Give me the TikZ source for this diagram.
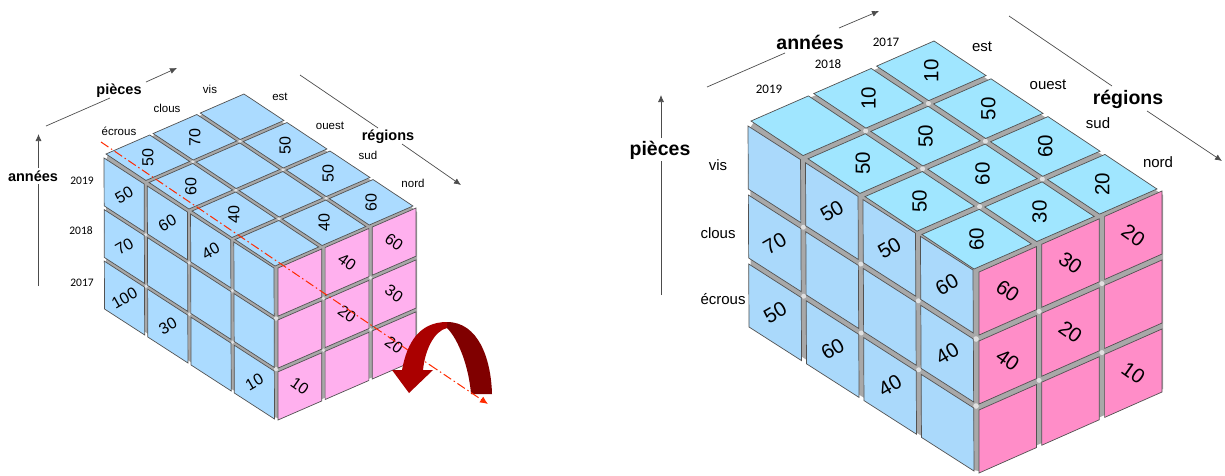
\documentclass[tikz,border=0pt]{standalone}
\usepackage{fontspec}
\setmainfont{Liberation Sans}
\newfontfamily\yearfont{Carlito}
\usetikzlibrary{arrows.meta}
\definecolor{blueA}{HTML}{ABDBFF}
\definecolor{pinkA}{HTML}{FFB0EE}
\definecolor{topB}{HTML}{A0E6FF}
\definecolor{blueB}{HTML}{AAD9FB}
\definecolor{pinkB}{HTML}{FF8DC8}
\definecolor{arcA}{HTML}{AA0000}
\definecolor{arcB}{HTML}{800000}
\definecolor{axisred}{HTML}{FF2A00}
\newcommand{\fs}[1]{\fontsize{#1}{#1}\selectfont}
\newcommand{\drawcells}[1]{%
  \foreach \ci in {1,...,\nc}{\foreach \ri in {1,...,\nr}{%
    \pgfmathsetmacro\ua{(\ci-1+\gapf)/\nc}\pgfmathsetmacro\ub{(\ci-\gapf)/\nc}%
    \pgfmathsetmacro\va{(\ri-1+\gapf)/\nr}\pgfmathsetmacro\vb{(\ri-\gapf)/\nr}%
    \draw[#1]
      (\ox+\ua*\ax+\va*\bx,\oy+\ua*\ay+\va*\by) --
      (\ox+\ub*\ax+\va*\bx,\oy+\ub*\ay+\va*\by) --
      (\ox+\ub*\ax+\vb*\bx,\oy+\ub*\ay+\vb*\by) --
      (\ox+\ua*\ax+\vb*\bx,\oy+\ua*\ay+\vb*\by) -- cycle;
  }}}
% name, outer corner x,y, outer vector a x,y, outer vector b x,y, nc, nr ; uses \cellcol, \gapf, \glow
\newcommand{\facegrid}[9]{%
  \def\nc{#8}\def\nr{#9}%
  \pgfmathsetmacro\sa{1/(1-2*\gapf/\nc)}\pgfmathsetmacro\sb{1/(1-2*\gapf/\nr)}%
  \pgfmathsetmacro\ax{(#4)*\sa}\pgfmathsetmacro\ay{(#5)*\sa}%
  \pgfmathsetmacro\bx{(#6)*\sb}\pgfmathsetmacro\by{(#7)*\sb}%
  \pgfmathsetmacro\ox{#2-\gapf/\nc*\ax-\gapf/\nr*\bx}%
  \pgfmathsetmacro\oy{#3-\gapf/\nc*\ay-\gapf/\nr*\by}%
  \foreach \ci in {1,...,\nc}{\foreach \ri in {1,...,\nr}{%
    \pgfmathsetmacro\mx{\ox+(\ci-.5)/\nc*\ax+(\ri-.5)/\nr*\bx}%
    \pgfmathsetmacro\my{\oy+(\ci-.5)/\nc*\ay+(\ri-.5)/\nr*\by}%
    \coordinate (#1-\ci-\ri) at (\mx,\my);
    \pgfmathsetmacro\ix{\ox+\ci/\nc*\ax+\ri/\nr*\bx}%
    \pgfmathsetmacro\iy{\oy+\ci/\nc*\ay+\ri/\nr*\by}%
    \ifnum\ci<\nc\relax\ifnum\ri<\nr\relax
      \fill[glowdot] (\ix,\iy) circle[radius=\glow];
    \fi\fi
  }}%
  \drawcells{cellbox,fill=\cellcol}%
}
\tikzset{
  cubebody/.style={fill=black!34,line join=round},
  glowdot/.style={fill=white,fill opacity=.65},
  cellbox/.style={draw=black!68,line width=.7pt,line join=miter},
  smallA/.style={inner sep=0pt,font=\fs{11.5}},
  smallB/.style={inner sep=0pt,font=\fs{15}},
  yrA/.style={inner sep=0pt,font=\yearfont\fs{11.5}},
  yrB/.style={inner sep=0pt,font=\yearfont\fs{13}},
  axisA/.style={inner sep=2.5pt,font=\bfseries\fs{14.5}},
  axisB/.style={inner sep=2.5pt,font=\bfseries\fs{19.5}},
  axline/.style={draw=black!70,line width=.7pt},
  axarrow/.style={axline,-{Latex[length=7pt,width=6pt]}},
  numA/.style={inner sep=0pt,font=\fs{16}},
  numB/.style={inner sep=0pt,font=\fs{20.5}},
  redaxis/.style={draw=axisred,line width=1pt,dash pattern=on 9pt off 3pt on 1.5pt off 3pt},
  redtip/.style={redaxis,-{Latex[length=8pt,width=7pt]}},
}
\begin{document}
\begin{tikzpicture}[x=1pt,y=-1pt]
\useasboundingbox (0,0) rectangle (1225,475);
% ================= left cube
\fill[cubebody] (108,155) -- (244,97) -- (410,206) -- (415,210) -- (417,212) -- (417,358) -- (278,418) -- (274,417) -- (106,306) -- (106,160) -- cycle;
\foreach \k in {1,2} \fill[glowdot] (276,268+50.5*\k) circle[radius=2.2];
\def\gapf{.036}\def\glow{1.8}
\def\cellcol{blueA}
\facegrid{LT}{106}{154}{138}{-60}{169}{112}{3}{4}
\facegrid{LL}{104}{158}{170}{110}{0.5}{151}{4}{3}
\def\cellcol{pinkA}
\facegrid{LR}{278}{268}{138}{-60}{0}{152}{3}{3}
\foreach \ci/\ri/\v in {1/1/50,2/1/70,1/2/60,1/3/40,3/2/50,3/3/50,3/4/60,2/4/40}
  \node[numA,rotate=90] (LTv-\ci-\ri) at (LT-\ci-\ri) {\v};
\foreach \ci/\ri/\v in {1/1/50,2/1/60,3/1/40,1/2/70,1/3/100,2/3/30,4/3/10}
  \node[numA,rotate=30] (LLv-\ci-\ri) at (LL-\ci-\ri) {\v};
\foreach \ci/\ri/\v in {2/1/40,3/1/60,2/2/20,3/2/30,1/3/10,3/3/20}
  \node[numA,rotate=-35] (LRv-\ci-\ri) at (LR-\ci-\ri) {\v};
% labels
\node[smallA] (lecrous) at (119,131) {écrous};
\node[smallA] (lclous) at (167,108) {clous};
\node[smallA] (lvis) at (210,89) {vis};
\node[smallA] (lest) at (280,97) {est};
\node[smallA] (louest) at (330,126) {ouest};
\node[smallA] (lsud) at (368,155) {sud};
\node[smallA] (lnord) at (413,183) {nord};
\node[yrA] (l2019) at (82,181) {2019};
\node[yrA] (l2018) at (81,231) {2018};
\node[yrA] (l2017) at (82,283) {2017};
\node[axisA] (lpieces) at (119,91) {pièces};
\node[axisA] (lannees) at (33,176) {années};
\node[axisA] (lregions) at (388,137) {régions};
\coordinate (lp0) at (46,126); \coordinate (lp1) at (177,68);
\coordinate (la0) at (38.5,286); \coordinate (la1) at (38.5,134);
\coordinate (lr0) at (300,75); \coordinate (lr1) at (461,185);
\draw[axline] (lp0) -- (110,98);
\draw[axarrow] (146,82) -- (lp1);
\draw[axline] (la0) -- (38.5,184);
\draw[axarrow] (38.5,168) -- (la1);
\draw[axline] (lr0) -- (378,128);
\draw[axarrow] (402,144) -- (lr1);
% rotation axis
\coordinate (ra0) at (101,142); \coordinate (ra1) at (488,404); \coordinate (ra2) at (430,365);
\draw[redaxis] (ra0) -- (ra2);
% curved arrow
\fill[arcB] (447,322) .. controls (478,322) and (491,358) .. (492,394) -- (471,394)
  .. controls (469,368) and (459,340) .. (447,328) -- cycle;
\fill[arcA] (402,370) .. controls (407,343) and (419,322) .. (447,322) -- (447,328)
  .. controls (434,331) and (425,350) .. (423,370) -- (433,370) -- (409,393) -- (392,370) -- cycle;
\draw[redtip] (ra2) -- (ra1);
% ================= right cube
\fill[cubebody] (754,122) -- (934,44) -- (1154,189) -- (1160,193) -- (1163,195) -- (1163,389) -- (979,471) -- (973,470) -- (751,323) -- (750,128) -- cycle;
\foreach \k in {1,2} \fill[glowdot] (976,272+67*\k) circle[radius=2.8];
\def\gapf{.043}\def\glow{2.5}
\def\cellcol{topB}
\facegrid{RT}{751}{121}{183}{-80}{223}{148}{3}{4}
\def\cellcol{blueB}
\facegrid{RL}{748}{126}{225}{144}{1}{201}{4}{3}
\def\cellcol{pinkB}
\facegrid{RR}{979}{272}{183}{-81}{0}{201}{3}{3}
\foreach \ci/\ri/\v in {2/1/10,3/1/10,1/2/50,2/2/50,3/2/50,1/3/50,2/3/60,3/3/60,1/4/60,2/4/30,3/4/20}
  \node[numB,rotate=90] (RTv-\ci-\ri) at (RT-\ci-\ri) {\v};
\foreach \ci/\ri/\v in {2/1/50,3/1/50,4/1/60,1/2/70,4/2/40,1/3/50,2/3/60,3/3/40}
  \node[numB,rotate=30] (RLv-\ci-\ri) at (RL-\ci-\ri) {\v};
\foreach \ci/\ri/\v in {1/1/60,2/1/30,3/1/20,1/2/40,2/2/20,3/3/10}
  \node[numB,rotate=-35] (RRv-\ci-\ri) at (RR-\ci-\ri) {\v};
\node[smallB] (rvis) at (718,165) {vis};
\node[smallB] (rclous) at (718,233) {clous};
\node[smallB] (recrous) at (723,299) {écrous};
\node[smallB] (rest) at (982,47) {est};
\node[smallB] (rouest) at (1048,85) {ouest};
\node[smallB] (rsud) at (1098,123) {sud};
\node[smallB] (rnord) at (1158,162) {nord};
\node[yrB] (r2019) at (769,89) {2019};
\node[yrB] (r2018) at (828,64) {2018};
\node[yrB] (r2017) at (886,42) {2017};
\node[axisB] (rannees) at (810,42) {années};
\node[axisB] (rpieces) at (660,150) {pièces};
\node[axisB] (rregions) at (1128,99) {régions};
\coordinate (ry0) at (707,87); \coordinate (ry1) at (879,11);
\coordinate (rp0) at (661,295); \coordinate (rp1) at (661,95);
\coordinate (rr0) at (1009,16); \coordinate (rr1) at (1222,161);
\draw[axline] (ry0) -- (785,53);
\draw[axarrow] (839,28) -- (ry1);
\draw[axline] (rp0) -- (661,161);
\draw[axarrow] (661,138) -- (rp1);
\draw[axline] (rr0) -- (1112,86);
\draw[axarrow] (1147,111) -- (rr1);
\end{tikzpicture}
\end{document}
